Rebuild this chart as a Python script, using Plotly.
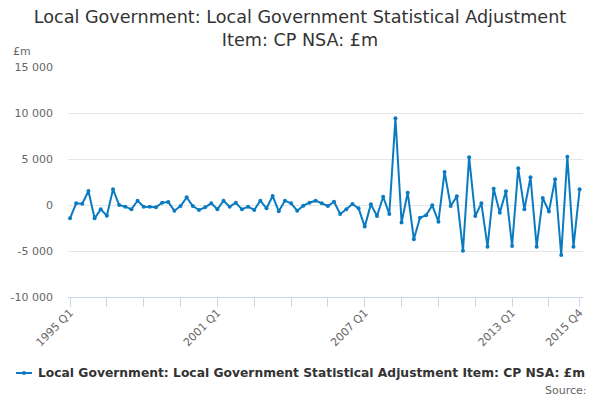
import plotly.graph_objects as go

years = list(range(1995, 2016))
quarters = [f"{y} Q{q}" for y in years for q in range(1, 5)]

values = [
    -1450, 180, 140, 1520,
    -1450, -470, -1160, 1700,
    0, -180, -470, 470,
    -180, -180, -250, 250,
    320, -620, -110, 830,
    -110, -540, -250, 180,
    -470, 470, -180, 250,
    -470, -180, -540, 470,
    -360, 980, -690, 470,
    180, -620, -70, 250,
    470, 180, -110, 360,
    -980, -470, 110, -360,
    -2350, 70, -1200, 900,
    -980, 9420, -1900, 1340,
    -3730, -1380, -1120, -40,
    -1810, 3590, -110, 940,
    -4970, 5200, -1200, 180,
    -4530, 1770, -830, 1490,
    -4460, 3990, -470, 3010,
    -4530, 760, -720, 2790,
    -5430, 5250, -4530, 1700,
]

labelled = ["1995 Q1", "2001 Q1", "2007 Q1", "2013 Q1", "2015 Q4"]
tick_positions = quarters[::6] + [quarters[-1]]
tick_text = [q if q in labelled else "" for q in tick_positions]

y_ticks = [-10000, -5000, 0, 5000, 10000, 15000]
y_text = [f"{v:,}".replace(",", " ") for v in y_ticks]

series_name = "Local Government: Local Government Statistical Adjustment Item: CP NSA: £m"

FONT = "DejaVu Sans"
COLOR = "#0a7bc1"

# plot area in pixels (for placing legend/labels in paper coords)
L, R, T, B = 68, 583, 67, 297
PW, PH = R - L, B - T


def px(x):
    return (x - L) / PW


def py(y):
    return (B - y) / PH


fig = go.Figure()
fig.add_trace(go.Scatter(
    x=quarters, y=values, mode="lines+markers", name=series_name,
    line=dict(color=COLOR, width=2),
    marker=dict(color=COLOR, size=4),
    showlegend=False,
))

fig.update_layout(
    width=600, height=400,
    margin=dict(l=L, r=600 - R, t=T, b=400 - B, autoexpand=False),
    paper_bgcolor="white", plot_bgcolor="white",
    font=dict(family=FONT, color="#666666", size=11),
    title=dict(
        text="Local Government: Local Government Statistical Adjustment<br>Item: CP NSA: £m",
        x=0.5, xanchor="center", y=0.943, yanchor="top",
        font=dict(family=FONT, size=17.6, color="#333333"),
    ),
    showlegend=False,
    xaxis=dict(
        type="category",
        range=[-0.33, 83.55],
        tickmode="array", tickvals=tick_positions, ticktext=tick_text,
        tickangle=-45,
        ticks="outside", ticklen=9, tickcolor="#ccd6eb", tickwidth=1,
        showline=True, linecolor="#ccd6eb", linewidth=1,
        showgrid=False, zeroline=False,
        ticklabelstandoff=-5,
        tickfont=dict(family=FONT, size=11, color="#666666"),
    ),
    yaxis=dict(
        range=[-10000, 15000],
        tickmode="array", tickvals=y_ticks, ticktext=y_text,
        showgrid=True, gridcolor="#e6e6e6", gridwidth=1,
        zeroline=False, showline=False,
        ticks="", ticklabelstandoff=14,
        tickfont=dict(family=FONT, size=11, color="#666666"),
    ),
    annotations=[
        dict(text="£m", xref="paper", yref="paper", x=px(11), y=py(52),
             xanchor="left", yanchor="middle", showarrow=False,
             font=dict(family=FONT, size=11, color="#666666")),
        dict(text="Source:", xref="paper", yref="paper", x=px(589), y=py(390),
             xanchor="right", yanchor="middle", showarrow=False,
             font=dict(family=FONT, size=11, color="#666666")),
        dict(text="<b>" + series_name + "</b>", xref="paper", yref="paper",
             x=px(36), y=py(373), xanchor="left", yanchor="middle",
             showarrow=False,
             font=dict(family=FONT, size=12.3, color="#333333")),
    ],
    shapes=[
        dict(type="line", xref="paper", yref="paper",
             x0=px(16), x1=px(32), y0=py(373), y1=py(373),
             line=dict(color=COLOR, width=2)),
        dict(type="circle", xref="paper", yref="paper",
             x0=px(22), x1=px(26), y0=py(375), y1=py(371),
             fillcolor=COLOR, line=dict(color=COLOR, width=0)),
    ],
)

fig.write_html("out.html", config={"displayModeBar": False},
               post_script="document.body.style.margin='0';")
